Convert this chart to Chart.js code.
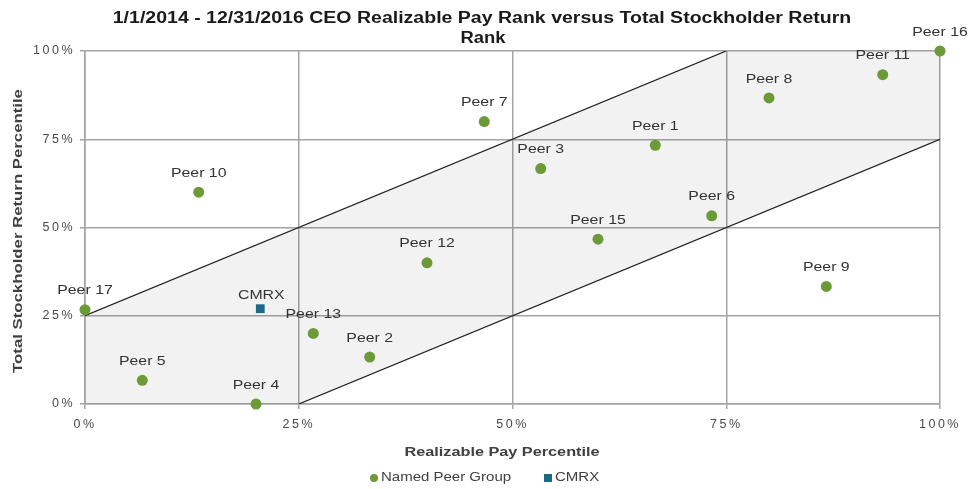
<!DOCTYPE html>
<html>
<head>
<meta charset="utf-8">
<script src="https://cdn.jsdelivr.net/npm/chart.js@4.4.0/dist/chart.umd.min.js"></script>
<style>
html,body{margin:0;padding:0;background:#fff;}
#wrap{width:970px;height:489px;position:relative;}
</style>
</head>
<body>
<div id="wrap"><canvas id="c" width="970" height="489"></canvas></div>
<script>
const titleLines = ['1/1/2014 - 12/31/2016 CEO Realizable Pay Rank versus Total Stockholder Return', 'Rank'];
const xAxisTitle = 'Realizable Pay Percentile';
const yAxisTitle = 'Total Stockholder Return Percentile';
const tickValues = [0, 25, 50, 75, 100];

const peerNames = ['Peer 1','Peer 2','Peer 3','Peer 4','Peer 5','Peer 6','Peer 7','Peer 8','Peer 9','Peer 10','Peer 11','Peer 12','Peer 13','Peer 15','Peer 16','Peer 17'];
const peerPay   = [66.7, 33.3, 53.3, 20.0, 6.7, 73.3, 46.7, 80.0, 86.7, 13.3, 93.3, 40.0, 26.7, 60.0, 100, 0];
const peerTSR   = [73.3, 13.3, 66.7, 0.0, 6.7, 53.3, 80.0, 86.7, 33.3, 60.0, 93.3, 40.0, 20.0, 46.7, 100, 26.7];

const companyName = 'CMRX';
const companyPay = [20.5];
const companyTSR = [27];

const bandX = [0, 0, 75, 100, 100, 25, 0];
const bandY = [0, 25, 100, 100, 75, 0, 0];
const upperLineX = [0, 75];
const upperLineY = [25, 100];
const lowerLineX = [25, 100];
const lowerLineY = [0, 75];

const legendLabels = ['Named Peer Group', 'CMRX'];

const GREEN = '#6b9a37';
const TEAL = '#1c6b85';
const TXT = '#404040';
const FAM = '"Liberation Sans", Arial, sans-serif';

const zip = (xs, ys) => xs.map((x, i) => ({x, y: ys[i]}));

// draw text horizontally stretched (reference text is wide)
function stretchText(ctx, text, x, y, font, sx, align) {
  ctx.save();
  ctx.font = font;
  ctx.textAlign = align || 'center';
  ctx.textBaseline = 'middle';
  ctx.translate(x, y);
  ctx.scale(sx, 1);
  ctx.fillText(text, 0, 0);
  ctx.restore();
}

const labelPlugin = {
  id: 'custom',
  beforeDraw(chart) {
    chart.ctx.letterSpacing = '2.5px';
  },
  afterDatasetsDraw(chart) {
    const ctx = chart.ctx;
    ctx.save();
    ctx.letterSpacing = '0px';
    ctx.fillStyle = '#333';
    const f = '13px ' + FAM;
    const pm = chart.getDatasetMeta(3);
    pm.data.forEach((el, i) => { stretchText(ctx, peerNames[i], el.x, el.y - 19, f, 1.22); });
    const cm = chart.getDatasetMeta(4);
    cm.data.forEach((el) => { stretchText(ctx, companyName, el.x + 1, el.y - 13, f, 1.22); });
    ctx.restore();
  },
  afterDraw(chart) {
    const ctx = chart.ctx;
    ctx.save();
    ctx.letterSpacing = '0px';
    ctx.fillStyle = '#1a1a1a';
    stretchText(ctx, titleLines[0], 482, 19, 'bold 16px ' + FAM, 1.22);
    stretchText(ctx, titleLines[1], 483, 39, 'bold 16px ' + FAM, 1.15);
    ctx.fillStyle = TXT;
    stretchText(ctx, xAxisTitle, 502, 452, 'bold 13px ' + FAM, 1.25);
    ctx.save();
    ctx.translate(18, 231);
    ctx.rotate(-Math.PI / 2);
    stretchText(ctx, yAxisTitle, 0, 0, 'bold 13px ' + FAM, 1.29);
    ctx.restore();
    // legend
    ctx.fillStyle = GREEN;
    ctx.beginPath(); ctx.arc(374, 478, 4, 0, Math.PI * 2); ctx.fill();
    ctx.fillStyle = TXT;
    stretchText(ctx, legendLabels[0], 381, 478, '12px ' + FAM, 1.25, 'left');
    ctx.fillStyle = TEAL;
    ctx.fillRect(544, 474, 8, 8);
    ctx.fillStyle = TXT;
    stretchText(ctx, legendLabels[1], 555, 478, '12px ' + FAM, 1.25, 'left');
    ctx.restore();
  }
};

new Chart(document.getElementById('c'), {
  type: 'scatter',
  data: {
    datasets: [
      { data: zip(bandX, bandY), showLine: true, fill: 'shape', backgroundColor: 'rgba(0,0,0,0.05)', borderWidth: 0, pointRadius: 0, order: 5 },
      { data: zip(upperLineX, upperLineY), showLine: true, borderColor: '#222', borderWidth: 1.3, pointRadius: 0, fill: false, order: 4 },
      { data: zip(lowerLineX, lowerLineY), showLine: true, borderColor: '#222', borderWidth: 1.3, pointRadius: 0, fill: false, order: 4 },
      { label: legendLabels[0], data: zip(peerPay, peerTSR), pointStyle: 'circle', pointRadius: 5.5, backgroundColor: GREEN, borderColor: GREEN, borderWidth: 0, order: 1, clip: false },
      { label: legendLabels[1], data: zip(companyPay, companyTSR), pointStyle: 'rect', pointRadius: 6.2, backgroundColor: TEAL, borderColor: TEAL, borderWidth: 0, order: 0, clip: false }
    ]
  },
  options: {
    responsive: false,
    animation: false,
    layout: { padding: { left: 0, right: 30, top: 51, bottom: 0 } },
    plugins: { legend: { display: false }, title: { display: false }, tooltip: { enabled: false } },
    scales: {
      x: {
        type: 'linear', min: 0, max: 100,
        afterBuildTicks: (s) => { s.ticks = tickValues.map(v => ({value: v})); },
        afterFit: (s) => { s.height = 85; },
        grid: { color: '#a3a3a3', lineWidth: 1.5, tickLength: 5, tickColor: '#a3a3a3' },
        border: { color: '#a3a3a3', width: 1.5 },
        ticks: { callback: v => v + '%', color: '#4a4a4a', font: { size: 12.5, family: FAM }, padding: 8, maxRotation: 0 }
      },
      y: {
        type: 'linear', min: 0, max: 100,
        afterBuildTicks: (s) => { s.ticks = tickValues.map(v => ({value: v})); },
        afterFit: (s) => { s.width = 85; },
        grid: { color: '#a3a3a3', lineWidth: 1.5, tickLength: 5, tickColor: '#a3a3a3' },
        border: { color: '#a3a3a3', width: 1.5 },
        ticks: { callback: v => v + '%', color: '#4a4a4a', font: { size: 12.5, family: FAM }, padding: 5 }
      }
    }
  },
  plugins: [labelPlugin]
});
</script>
</body>
</html>
